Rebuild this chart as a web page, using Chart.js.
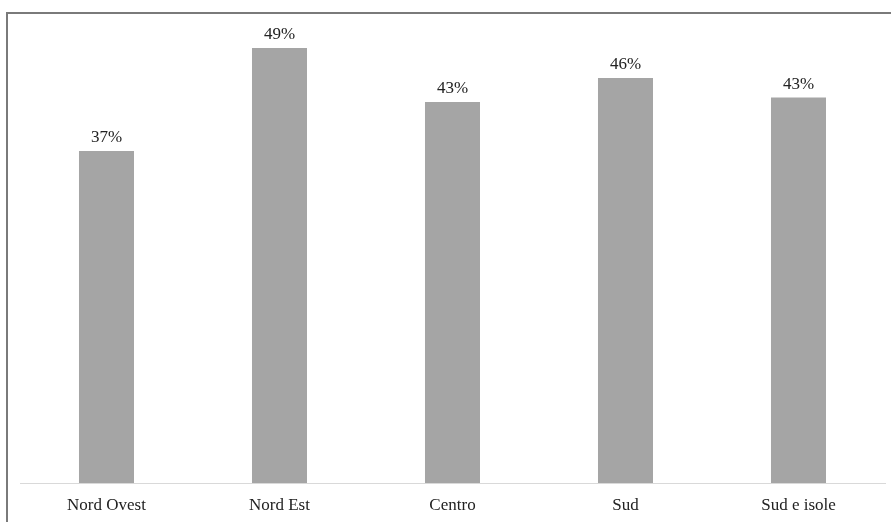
<!DOCTYPE html>
<html>
<head>
<meta charset="utf-8">
<script src="https://cdn.jsdelivr.net/npm/chart.js@4.4.1/dist/chart.umd.min.js"></script>
<style>
  html, body { margin: 0; padding: 0; background: #ffffff; }
  #wrap { width: 891px; height: 522px; position: relative; }
</style>
</head>
<body>
<div id="wrap"><canvas id="chart" width="891" height="522"></canvas></div>
<script>
// Regional shares (percent)
const categories = ['Nord Ovest', 'Nord Est', 'Centro', 'Sud', 'Sud e isole'];
const shares = [37.4, 49.0, 42.9, 45.6, 43.4];

const FONT = '"Liberation Serif", "Times New Roman", serif';
const TEXT_COLOR = '#222222';

// Percentage labels above each bar
const valueLabels = {
  id: 'valueLabels',
  afterDatasetsDraw(chart) {
    const ctx = chart.ctx;
    const meta = chart.getDatasetMeta(0);
    ctx.save();
    ctx.font = '17px ' + FONT;
    ctx.fillStyle = TEXT_COLOR;
    ctx.textAlign = 'center';
    ctx.textBaseline = 'alphabetic';
    meta.data.forEach((bar, i) => {
      ctx.fillText(Math.round(shares[i]) + '%', bar.x, bar.y - 9);
    });
    ctx.restore();
  }
};

// Frame lines along the top and left edges
const frame = {
  id: 'frame',
  afterDraw(chart) {
    const ctx = chart.ctx;
    ctx.save();
    ctx.strokeStyle = '#7a7a7a';
    ctx.lineWidth = 2;
    ctx.beginPath();
    ctx.moveTo(7, chart.height);
    ctx.lineTo(7, 13);
    ctx.lineTo(chart.width, 13);
    ctx.stroke();
    ctx.restore();
  }
};

new Chart(document.getElementById('chart'), {
  type: 'bar',
  data: {
    labels: categories,
    datasets: [{
      data: shares,
      backgroundColor: '#a5a5a5',
      borderWidth: 0,
      barPercentage: 0.318,
      categoryPercentage: 1.0
    }]
  },
  options: {
    responsive: false,
    animation: false,
    devicePixelRatio: 1,
    layout: { padding: { left: 20, right: 6, top: 39, bottom: 0 } },
    plugins: {
      legend: { display: false },
      tooltip: { enabled: false }
    },
    scales: {
      x: {
        grid: { display: false },
        border: { display: true, color: '#d9d9d9', width: 1 },
        ticks: {
          color: TEXT_COLOR,
          font: { family: FONT, size: 17 },
          padding: 4,
          maxRotation: 0,
          autoSkip: false
        },
        afterFit(scale) { scale.height = 39; }
      },
      y: {
        display: false,
        min: 0,
        max: 50
      }
    }
  },
  plugins: [valueLabels, frame]
});
</script>
</body>
</html>
